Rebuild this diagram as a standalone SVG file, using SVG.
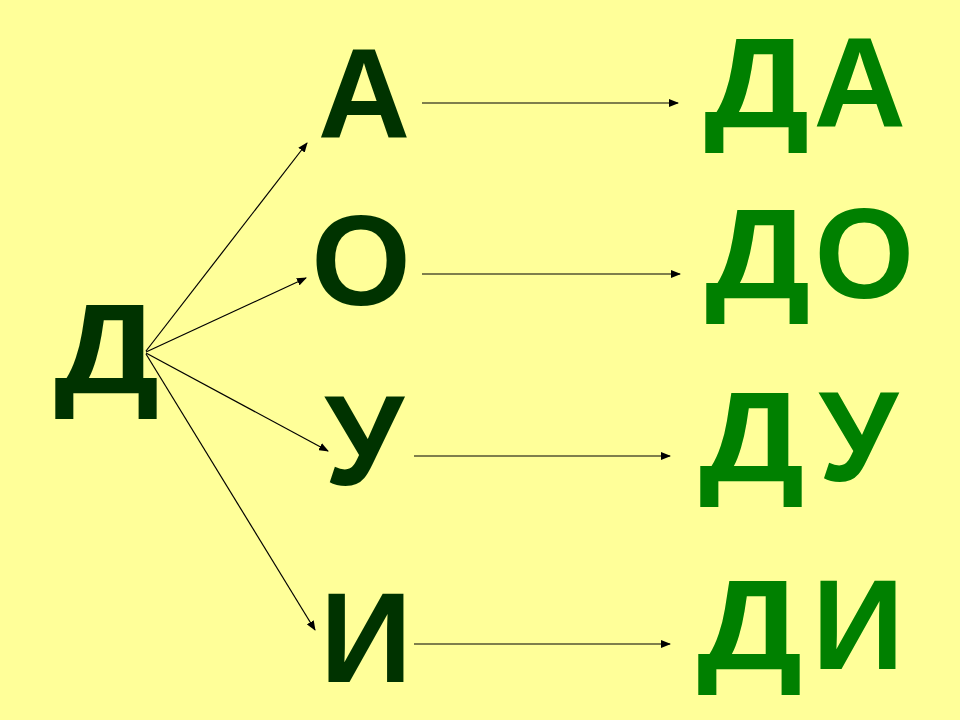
<svg xmlns="http://www.w3.org/2000/svg" width="960" height="720" viewBox="0 0 960 720">
<defs>
<marker id="ah" markerUnits="userSpaceOnUse" markerWidth="10" markerHeight="8" refX="9" refY="4" orient="auto">
<path d="M0,0 L10,4 L0,8 Z" fill="#000"/>
</marker>
<style>
.dk{font-family:"Liberation Sans",Arial,sans-serif;font-weight:bold;font-size:128px;fill:#003300}
.gr{font-family:"Liberation Sans",Arial,sans-serif;font-weight:bold;font-size:128px;fill:#008000}
.c{stroke:#000;stroke-width:1.2;fill:none;marker-end:url(#ah)}
</style>
</defs>
<rect width="960" height="720" fill="#FFFF99"/>
<g id="node-D"><text class="dk" transform="translate(54,393) scale(1.155,1)">Д</text></g>
<g id="node-A"><text class="dk" x="364" y="138" text-anchor="middle">А</text></g>
<g id="node-O"><text class="dk" x="361" y="305" text-anchor="middle">О</text></g>
<g id="node-U"><text class="dk" x="364" y="485" text-anchor="middle">У</text></g>
<g id="node-I"><text class="dk" x="366" y="682" text-anchor="middle">И</text></g>
<g id="node-DA"><text class="gr" transform="translate(704,127) scale(1.155,1)">Д</text><text class="gr" x="906" y="127" text-anchor="end">А</text></g>
<g id="node-DO"><text class="gr" transform="translate(705,298) scale(1.155,1)">Д</text><text class="gr" x="914" y="298" text-anchor="end">О</text></g>
<g id="node-DU"><text class="gr" transform="translate(699,481) scale(1.155,1)">Д</text><text class="gr" x="898" y="481" text-anchor="end">У</text></g>
<g id="node-DI"><text class="gr" transform="translate(697,669) scale(1.155,1)">Д</text><text class="gr" x="904" y="669" text-anchor="end">И</text></g>
<g id="connectors">
<line class="c" x1="146" y1="351" x2="307" y2="143"/>
<line class="c" x1="146" y1="352" x2="306" y2="278"/>
<line class="c" x1="146" y1="353" x2="328" y2="451"/>
<line class="c" x1="146" y1="354" x2="315" y2="630"/>
<line class="c" x1="422" y1="103" x2="678" y2="103"/>
<line class="c" x1="422" y1="274" x2="680" y2="274"/>
<line class="c" x1="414" y1="456" x2="670" y2="456"/>
<line class="c" x1="414" y1="644" x2="670" y2="644"/>
</g>
</svg>
